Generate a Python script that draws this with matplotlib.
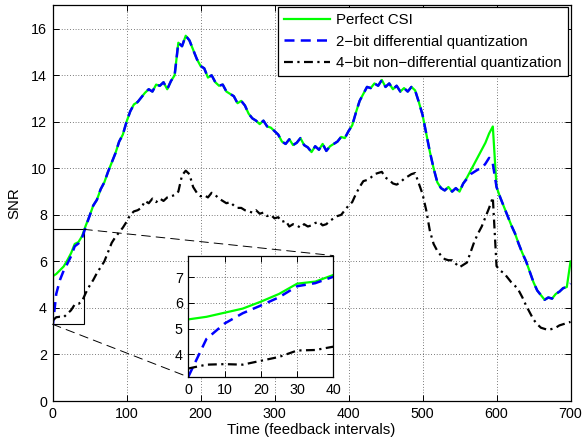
import numpy as np
import matplotlib.pyplot as plt
from matplotlib.patches import Rectangle, ConnectionPatch

plt.rcParams['font.family'] = ['Liberation Sans', 'DejaVu Sans']
plt.rcParams['font.size'] = 10.8

# time axis, one sample every 5 feedback intervals
t = np.arange(0, 701, 5)

perfect = [5.36, 5.46, 5.62, 5.78, 6.05, 6.35, 6.75, 6.83, 7.09, 7.55,
           7.95, 8.4, 8.65, 9.1, 9.4, 9.85, 10.25, 10.65, 11.15, 11.45,
           12.0, 12.45, 12.75, 12.85, 13.05, 13.25, 13.4, 13.3, 13.6, 13.55,
           13.7, 13.4, 13.75, 14.0, 15.4, 15.25, 15.7, 15.5, 15.1, 14.7,
           14.4, 14.3, 13.9, 14.0, 13.7, 13.55, 13.6, 13.3, 13.2, 13.1,
           12.8, 12.9, 12.7, 12.35, 12.15, 12.05, 11.9, 12.05, 11.8, 11.75,
           11.6, 11.45, 11.15, 11.05, 11.25, 11.0, 11.1, 11.3, 11.0, 10.9,
           10.7, 10.95, 10.8, 11.05, 10.75, 10.95, 11.05, 11.15, 11.35, 11.3,
           11.6, 11.85, 12.4, 12.9, 13.2, 13.5, 13.45, 13.65, 13.55, 13.8,
           13.5, 13.65, 13.4, 13.55, 13.3, 13.45, 13.3, 13.5, 13.35, 12.85,
           12.3, 11.5, 10.7, 10.0, 9.4, 9.15, 9.05, 9.2, 9.0, 9.15,
           9.0, 9.35, 9.6, 9.9, 10.2, 10.5, 10.8, 11.1, 11.5, 11.8,
           9.2, 8.75, 8.35, 7.95, 7.55, 7.2, 6.75, 6.35, 6.0, 5.55,
           5.1, 4.75, 4.55, 4.35, 4.45, 4.4, 4.6, 4.7, 4.85, 4.9,
           6.0]

diff2 = [3.13, 4.6, 5.2, 5.6, 5.9, 6.22, 6.65, 6.77, 7.02, 7.5,
         7.95, 8.4, 8.65, 9.1, 9.4, 9.85, 10.25, 10.65, 11.15, 11.45,
         12.0, 12.45, 12.75, 12.85, 13.05, 13.25, 13.4, 13.3, 13.6, 13.55,
         13.7, 13.4, 13.75, 14.0, 15.4, 15.25, 15.7, 15.5, 15.1, 14.7,
         14.4, 14.3, 13.9, 14.0, 13.7, 13.55, 13.6, 13.3, 13.2, 13.1,
         12.8, 12.9, 12.7, 12.35, 12.15, 12.05, 11.9, 12.05, 11.8, 11.75,
         11.6, 11.45, 11.15, 11.05, 11.25, 11.0, 11.1, 11.3, 11.0, 10.9,
         10.7, 10.95, 10.8, 11.05, 10.75, 10.95, 11.05, 11.15, 11.35, 11.3,
         11.6, 11.85, 12.4, 12.9, 13.2, 13.5, 13.45, 13.65, 13.55, 13.8,
         13.5, 13.65, 13.4, 13.55, 13.3, 13.45, 13.3, 13.5, 13.35, 12.85,
         12.3, 11.5, 10.7, 10.0, 9.4, 9.15, 9.05, 9.2, 9.0, 9.15,
         9.0, 9.35, 9.55, 9.75, 9.85, 9.95, 10.0, 10.2, 10.45, 10.2,
         9.2, 8.75, 8.35, 7.95, 7.55, 7.2, 6.75, 6.35, 6.0, 5.55,
         5.1, 4.75, 4.55, 4.35, 4.45, 4.4, 4.6, 4.7, 4.85, 4.9,
         5.05]

nondiff4 = [3.45, 3.6, 3.62, 3.6, 3.75, 3.9, 4.15, 4.17, 4.3, 4.65,
            4.95, 5.2, 5.5, 5.75, 6.0, 6.4, 6.8, 7.05, 7.25, 7.45,
            7.7, 8.0, 8.15, 8.2, 8.3, 8.6, 8.5, 8.7, 8.55, 8.7,
            8.6, 8.75, 8.8, 8.85, 9.0, 9.7, 9.9, 9.75, 9.2, 8.95,
            8.8, 8.85, 8.75, 8.95, 8.85, 8.7, 8.6, 8.5, 8.55, 8.4,
            8.3, 8.3, 8.2, 8.15, 8.1, 8.2, 8.05, 8.1, 7.95, 8.0,
            7.85, 7.9, 7.7, 7.75, 7.5, 7.6, 7.55, 7.45, 7.6, 7.5,
            7.55, 7.65, 7.7, 7.55, 7.6, 7.75, 7.85, 7.95, 8.0, 8.2,
            8.4, 8.55, 8.9, 9.2, 9.45, 9.5, 9.6, 9.75, 9.8, 9.85,
            9.6, 9.5, 9.35, 9.3, 9.4, 9.55, 9.65, 9.75, 9.8, 9.35,
            8.9, 8.2, 7.3, 6.75, 6.45, 6.25, 6.1, 6.05, 6.05, 5.9,
            5.75, 5.85, 5.95, 6.4, 6.85, 7.2, 7.5, 7.9, 8.3, 8.75,
            5.8, 5.6, 5.5, 5.3, 5.1, 4.95, 4.75, 4.45, 4.1, 3.8,
            3.5, 3.3, 3.15, 3.1, 3.05, 3.1, 3.15, 3.25, 3.3, 3.35,
            3.4]

labels = ['Perfect CSI', '2\u2212bit differential quantization',
          '4\u2212bit non\u2212differential quantization']

# zoom window shown in the inset
zoom_x = (0, 40)
zoom_y = (3.12, 7.84)
rect_x = (0, 42)
rect_y = (3.3, 7.38)


def style_axes(a):
    a.tick_params(direction='in', top=True, right=True, length=4, width=0.7, pad=4,
                  labelsize=10.3)
    a.grid(True, color='k', linestyle=(0, (1, 3)), linewidth=0.5)
    for s in a.spines.values():
        s.set_linewidth(0.9)


def draw_lines(a, n=None):
    a.plot(t[:n], perfect[:n], color=(0, 1, 0), lw=1.6, label=labels[0])
    a.plot(t[:n], diff2[:n], color=(0, 0, 1), lw=1.8, ls=(0, (4, 2.5)), label=labels[1])
    a.plot(t[:n], nondiff4[:n], color='k', lw=1.6, ls=(0, (4, 2, 1, 2)), label=labels[2])


fig = plt.figure(figsize=(5.83, 4.43), dpi=100)
ax = fig.add_axes([0.0901, 0.0948, 0.8885, 0.8928])
draw_lines(ax)
ax.set_xlim(0, 700)
ax.set_ylim(0, 17)
ax.set_xticks(np.arange(0, 701, 100))
ax.set_yticks(np.arange(0, 17, 2))
style_axes(ax)
ax.set_xlabel('Time (feedback intervals)', labelpad=2)
ax.set_ylabel('SNR', labelpad=7)

ax.add_patch(Rectangle((rect_x[0], rect_y[0]), rect_x[1] - rect_x[0], rect_y[1] - rect_y[0],
                       fill=False, ec='k', lw=0.8, zorder=1))

leg = ax.legend(loc='upper right', bbox_to_anchor=(0.995, 0.996), fancybox=False,
                edgecolor='k', framealpha=1, handlelength=3.1, handletextpad=0.4,
                borderaxespad=0, labelspacing=0.5, borderpad=0.4)
leg.get_frame().set_linewidth(0.9)

ins = fig.add_axes([0.323, 0.149, 0.249, 0.274])
n_in = int(zoom_x[1] / 5) + 1
draw_lines(ins, n_in)
ins.set_xlim(*zoom_x)
ins.set_ylim(*zoom_y)
ins.set_xticks(np.arange(0, 41, 10))
ins.set_yticks([4, 5, 6, 7])
style_axes(ins)

for xa, xb in [((rect_x[1], rect_y[1]), (1, 1)), ((rect_x[0], rect_y[0]), (0, 0))]:
    con = ConnectionPatch(xyA=xa, coordsA=ax.transData, xyB=xb, coordsB=ins.transAxes,
                          color='k', lw=0.7, ls=(0, (9, 6)))
    fig.add_artist(con)

fig.savefig('out.png', dpi=100)
